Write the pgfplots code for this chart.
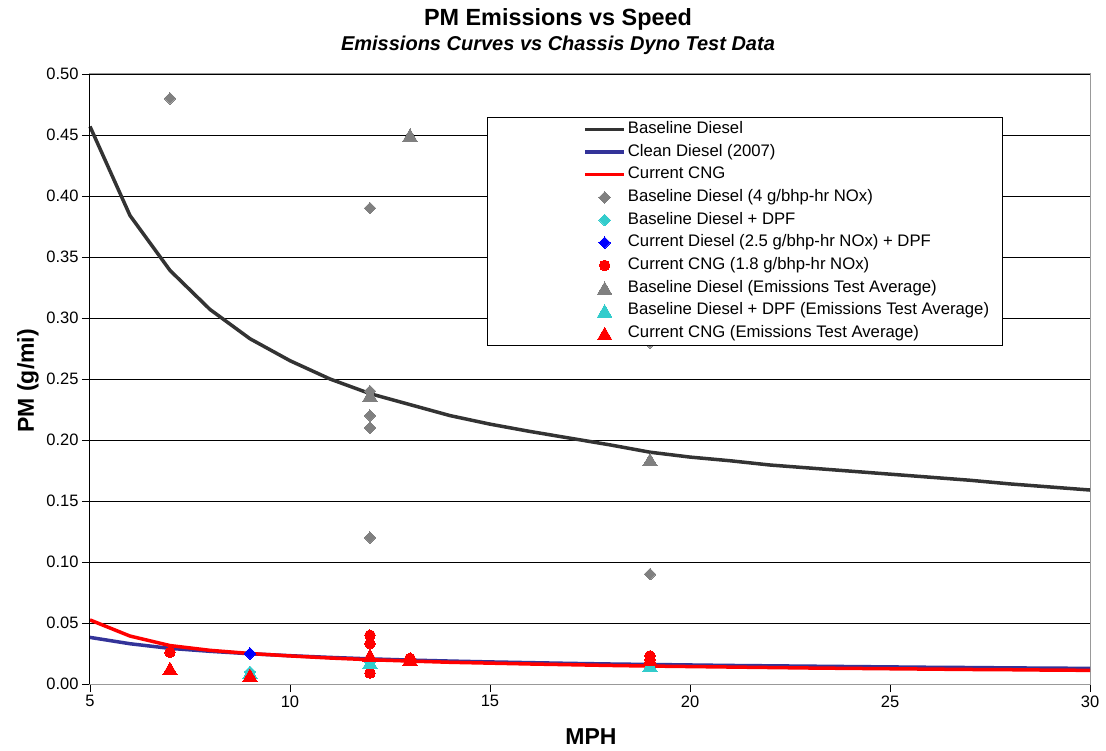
\documentclass[border=0pt]{standalone}
\usepackage{fontspec}
\setmainfont{Liberation Sans}
\usepackage{pgfplots}
\pgfplotsset{compat=1.18}
\definecolor{bdline}{HTML}{333333}
\definecolor{cdline}{HTML}{333399}
\definecolor{cngred}{HTML}{FF0000}
\definecolor{mgray}{HTML}{808080}
\definecolor{mcyan}{HTML}{33CCCC}
\definecolor{mblue}{HTML}{0000FF}
\pgfplotsset{
  lineleg/.style={legend image code/.code={\path (-83pt,0pt) (39pt,0pt); \draw[##1] (0pt,0pt) -- (39pt,0pt);}},
  markleg/.style={legend image code/.code={\path (-83pt,0pt) (39pt,0pt); \draw[##1] plot coordinates {(19.5pt,0pt)};}},
}
\begin{document}
\begin{tikzpicture}
\begin{axis}[
  scale only axis, width=1000pt, height=610pt,
  xmin=5, xmax=30, ymin=0, ymax=0.5,
  xtick={5,10,...,30}, ytick={0,0.05,...,0.51},
  tick align=outside, xtick pos=bottom, ytick pos=left,
  major tick length=8pt,
  tick style={black, line width=0.8pt},
  axis line style={draw=gray!80, line width=1pt},
  ymajorgrids, grid style={black, line width=0.8pt},
  /pgf/number format/assume math mode=true,
  ticklabel style={font=\fontsize{16.5}{18}\selectfont},
  yticklabel style={/pgf/number format/.cd, fixed, fixed zerofill, precision=2},
  xlabel={MPH}, ylabel={PM (g/mi)},
  label style={font=\bfseries\fontsize{23}{26}\selectfont},
  xlabel style={at={(axis description cs:0.501,-0.087)}, anchor=center},
  ylabel style={at={(axis description cs:-0.062,0.497)}, anchor=center},
  legend style={at={(0.397,0.9295)}, anchor=north west, draw=black, line width=0.8pt,
    fill=white, inner xsep=13pt, inner ysep=4pt, row sep=6.67pt, column sep=2pt,
    font=\fontsize{16.7}{18}\selectfont,
    nodes={inner sep=0pt, text height=12pt, text depth=4pt, anchor=west}},
  legend cell align=left,
  clip=false,
]
\addplot[bdline, line width=3.5pt, lineleg] coordinates {
(5,0.457)(6,0.384)(7,0.339)(8,0.307)(9,0.283)(10,0.265)(11,0.250)(12,0.238)(13,0.229)(14,0.220)(15,0.213)(16,0.207)(17,0.2015)(18,0.196)(19,0.190)(20,0.186)(21,0.183)(22,0.1795)(23,0.177)(24,0.1745)(25,0.172)(26,0.1695)(27,0.167)(28,0.164)(29,0.1615)(30,0.159)};
\addlegendentry{Baseline Diesel}
\addplot[cdline, line width=3.5pt, lineleg] coordinates {
(5,0.0382)(6,0.0330)(7,0.0292)(8,0.0268)(9,0.0248)(10,0.0232)(11,0.0218)(12,0.0206)(13,0.0196)(14,0.0188)(15,0.0181)(16,0.0175)(17,0.0169)(18,0.0164)(19,0.0160)(20,0.0156)(21,0.0152)(22,0.0149)(23,0.0146)(24,0.0143)(25,0.0140)(26,0.0137)(27,0.0135)(28,0.0132)(29,0.0130)(30,0.0128)};
\addlegendentry{Clean Diesel (2007)}
\addplot[cngred, line width=3.5pt, lineleg] coordinates {
(5,0.0525)(6,0.0393)(7,0.0315)(8,0.0276)(9,0.0250)(10,0.0230)(11,0.0213)(12,0.0199)(13,0.0188)(14,0.0178)(15,0.0171)(16,0.0164)(17,0.0158)(18,0.0152)(19,0.0147)(20,0.0143)(21,0.0139)(22,0.0135)(23,0.0131)(24,0.0128)(25,0.0125)(26,0.0122)(27,0.0119)(28,0.0117)(29,0.0114)(30,0.0112)};
\addlegendentry{Current CNG}
\addplot[only marks, mark=square*, mark size=4.1pt, mark options={rotate=45, draw=mgray, fill=mgray, line width=0pt}, markleg] coordinates {
(7,0.48)(12,0.39)(12,0.24)(12,0.22)(12,0.21)(12,0.12)(19,0.28)(19,0.09)};
\addlegendentry{Baseline Diesel (4 g/bhp-hr NOx)}
\addplot[only marks, mark=square*, mark size=4.1pt, mark options={rotate=45, draw=mcyan, fill=mcyan, line width=0pt}, markleg] coordinates {
(9,0.010)(12,0.018)(19,0.016)};
\addlegendentry{Baseline Diesel + DPF}
\addplot[only marks, mark=square*, mark size=4.1pt, mark options={rotate=45, draw=mblue, fill=mblue, line width=0pt}, markleg] coordinates {
(9,0.025)};
\addlegendentry{Current Diesel (2.5 g/bhp-hr NOx) + DPF}
\addplot[only marks, mark=*, mark size=5.3pt, mark options={draw=cngred, fill=cngred, line width=0pt}, markleg] coordinates {
(7,0.026)(12,0.040)(12,0.033)(12,0.009)(13,0.021)(19,0.023)(19,0.020)};
\addlegendentry{Current CNG (1.8 g/bhp-hr NOx)}
\addplot[only marks, mark=triangle*, mark size=8.3pt, mark options={draw=mgray, fill=mgray, line width=0pt, yshift=-2.1pt}, markleg] coordinates {
(12,0.237)(13,0.450)(19,0.184)};
\addlegendentry{Baseline Diesel (Emissions Test Average)}
\addplot[only marks, mark=triangle*, mark size=8.3pt, mark options={draw=mcyan, fill=mcyan, line width=0pt, yshift=-2.1pt}, markleg] coordinates {
(9,0.0095)(12,0.018)(19,0.0155)};
\addlegendentry{Baseline Diesel + DPF (Emissions Test Average)}
\addplot[only marks, mark=triangle*, mark size=8.3pt, mark options={draw=cngred, fill=cngred, line width=0pt, yshift=-2.1pt}, markleg] coordinates {
(7,0.0128)(9,0.0072)(12,0.0234)(13,0.0206)(19,0.0205)};
\addlegendentry{Current CNG (Emissions Test Average)}
\draw[black, line width=1pt] (rel axis cs:0,0) -- (rel axis cs:0,1);
\node[font=\bfseries\fontsize{23.4}{26}\selectfont, anchor=base] at (rel axis cs:0.468,1.0787) {PM Emissions vs Speed};
\node[font=\bfseries\itshape\fontsize{20}{22}\selectfont, anchor=base] at (rel axis cs:0.468,1.0377) {Emissions Curves vs Chassis Dyno Test Data};
\coordinate (bl) at (rel axis cs:-0.09,-0.1082);
\coordinate (tr) at (rel axis cs:1.016,1.1213);
\end{axis}
\pgfresetboundingbox
\path (bl) rectangle (tr);
\end{tikzpicture}
\end{document}
